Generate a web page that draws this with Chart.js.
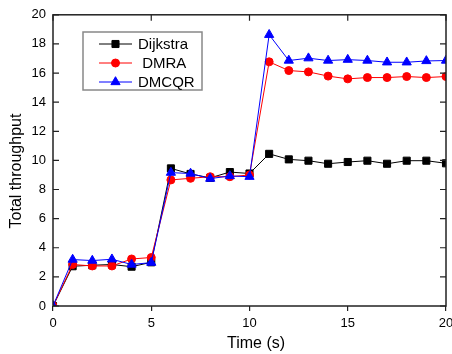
<!DOCTYPE html>
<html>
<head>
<meta charset="utf-8">
<script src="https://cdn.jsdelivr.net/npm/chart.js@4/dist/chart.umd.min.js"></script>
<style>
  html, body { margin: 0; padding: 0; background: #fff; overflow: hidden; }
  #wrap { width: 470px; height: 354px; }
</style>
</head>
<body>
<div id="wrap"><canvas id="chart" width="470" height="354"></canvas></div>
<script>
const timeSteps = [0, 1, 2, 3, 4, 5, 6, 7, 8, 9, 10, 11, 12, 13, 14, 15, 16, 17, 18, 19, 20];
const dijkstra = [0, 2.73, 2.8, 2.85, 2.7, 3.0, 9.45, 9.07, 8.8, 9.2, 9.1, 10.45, 10.07, 9.98, 9.77, 9.89, 9.98, 9.77, 9.98, 9.98, 9.8];
const dmra = [0, 2.85, 2.75, 2.75, 3.23, 3.33, 8.66, 8.77, 8.88, 8.88, 9.0, 16.77, 16.17, 16.08, 15.79, 15.6, 15.69, 15.69, 15.76, 15.69, 15.76];
const dmcqr = [0, 3.19, 3.12, 3.21, 2.85, 2.98, 9.16, 9.1, 8.75, 8.93, 8.88, 18.63, 16.86, 17.02, 16.86, 16.92, 16.86, 16.74, 16.74, 16.83, 16.86];
const seriesNames = ['Dijkstra', ' DMRA', 'DMCQR'];
const xTicks = [0, 5, 10, 15, 20];
const yTicks = [0, 2, 4, 6, 8, 10, 12, 14, 16, 18, 20];

const FONT = 'Liberation Sans, Arial, sans-serif';
const FRAME = '#222';

const toPoints = (values) => values.map((v, i) => ({ x: timeSteps[i], y: v }));

const makeSet = (label, values, color, style, radius, order) => ({
  label: label,
  data: toPoints(values),
  borderColor: color,
  backgroundColor: color,
  borderWidth: 1,
  pointStyle: style,
  pointRadius: radius,
  pointBorderWidth: 1,
  pointBackgroundColor: color,
  pointBorderColor: color,
  tension: 0,
  order: order
});

// frame, inward ticks, axis titles and the boxed legend
const framePlugin = {
  id: 'frame',
  afterDraw(chart) {
    const { ctx, chartArea: a, scales } = chart;
    ctx.save();
    ctx.strokeStyle = FRAME;
    ctx.lineWidth = 1.5;
    ctx.strokeRect(a.left, a.top, a.right - a.left, a.bottom - a.top);

    ctx.lineWidth = 1.2;
    ctx.beginPath();
    yTicks.forEach((v) => {
      const py = scales.y.getPixelForValue(v);
      ctx.moveTo(a.left, py); ctx.lineTo(a.left + 6, py);
      ctx.moveTo(a.right, py); ctx.lineTo(a.right - 6, py);
    });
    xTicks.forEach((v) => {
      const px = scales.x.getPixelForValue(v);
      ctx.moveTo(px, a.top); ctx.lineTo(px, a.top + 6);
    });
    ctx.stroke();

    // axis titles
    ctx.fillStyle = '#000';
    ctx.font = '16px ' + FONT;
    ctx.textAlign = 'center';
    ctx.textBaseline = 'middle';
    ctx.fillText('Time (s)', 256, 344);
    ctx.save();
    ctx.translate(17, 171);
    ctx.rotate(-Math.PI / 2);
    ctx.fillText('Total throughput', 0, 0);
    ctx.restore();

    // legend
    ctx.fillStyle = '#fff';
    ctx.fillRect(83, 32, 119, 58);
    ctx.strokeStyle = '#888';
    ctx.lineWidth = 1.5;
    ctx.strokeRect(83, 32, 119, 58);
    const rows = [44, 63, 82];
    const sets = chart.data.datasets;
    ctx.font = '15px ' + FONT;
    ctx.textAlign = 'left';
    sets.forEach((ds, i) => {
      const y = rows[i];
      ctx.strokeStyle = ds.borderColor;
      ctx.lineWidth = 1;
      ctx.beginPath();
      ctx.moveTo(99, y); ctx.lineTo(132, y);
      ctx.stroke();
      ctx.fillStyle = ds.pointBackgroundColor;
      Chart.helpers.drawPoint(ctx, {
        pointStyle: ds.pointStyle,
        radius: ds.pointRadius,
        rotation: 0,
        borderWidth: 1
      }, 115.5, y);
      ctx.fillStyle = '#000';
      ctx.fillText(seriesNames[i], 138, y + 1);
    });
    ctx.restore();
  }
};

new Chart(document.getElementById('chart'), {
  type: 'line',
  data: {
    datasets: [
      makeSet('Dijkstra', dijkstra, '#000000', 'rect', 5, 2),
      makeSet('DMRA', dmra, '#ff0000', 'circle', 4, 1),
      makeSet('DMCQR', dmcqr, '#0000ff', 'triangle', 5.3, 0)
    ]
  },
  options: {
    responsive: false,
    animation: false,
    layout: { padding: { top: 14, right: 24, left: 0, bottom: 0 } },
    plugins: {
      legend: { display: false },
      tooltip: { enabled: false }
    },
    scales: {
      x: {
        type: 'linear',
        min: 0,
        max: 20,
        afterBuildTicks: (scale) => { scale.ticks = xTicks.map((v) => ({ value: v })); },
        afterFit: (scale) => { scale.height = 48; },
        border: { display: false },
        grid: { drawOnChartArea: false, drawTicks: true, tickLength: 5, color: FRAME, lineWidth: 1.2 },
        ticks: { color: '#000', font: { family: FONT, size: 13 }, padding: 5, maxRotation: 0 }
      },
      y: {
        min: 0,
        max: 20,
        afterBuildTicks: (scale) => { scale.ticks = yTicks.map((v) => ({ value: v })); },
        afterFit: (scale) => { scale.width = 53; },
        border: { display: false },
        grid: { drawOnChartArea: false, drawTicks: false },
        ticks: { color: '#000', font: { family: FONT, size: 13 }, padding: 7 }
      }
    }
  },
  plugins: [framePlugin]
});
</script>
</body>
</html>
